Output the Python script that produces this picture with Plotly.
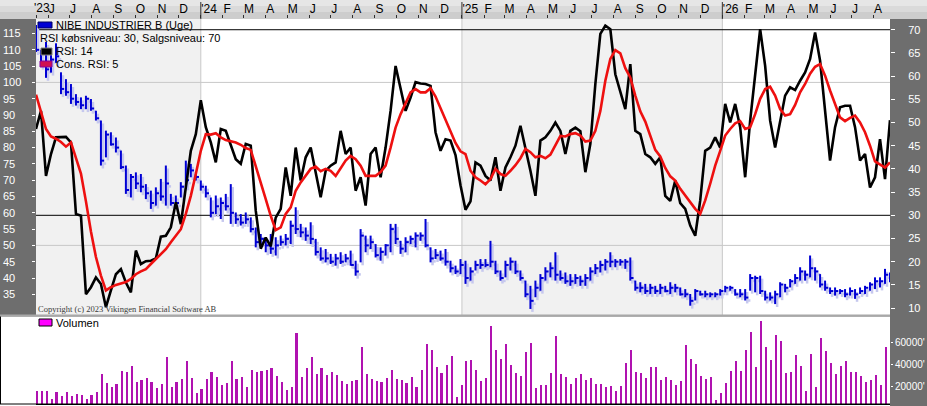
import pandas as pd
import plotly.graph_objects as go

# ---------------- data ----------------
week_start = "2023-05-15"
n_weeks = 172
dates = pd.date_range(week_start, periods=n_weeks, freq="7D")

high = [
    117.6, 110.0, 112.4, 108.5, 112.0, 103.1, 101.0, 99.5, 96.4, 95.4,
    95.9, 94.9, 91.3, 88.3, 85.2, 84.7, 83.1, 79.1, 74.5, 71.9,
    72.4, 71.9, 68.8, 66.8, 67.8, 70.4, 74.5, 65.8, 65.3, 69.4,
    76.0, 75.0, 71.9, 69.9, 68.3, 64.7, 65.3, 64.7, 65.8, 68.8,
    60.1, 59.6, 60.1, 58.6, 55.5, 53.5, 52.5, 53.5, 52.5, 53.0,
    53.5, 57.6, 61.7, 56.6, 55.5, 57.1, 52.0, 49.4, 48.9, 47.4,
    47.4, 47.9, 47.4, 48.4, 45.3, 55.0, 53.0, 53.0, 50.4, 49.4,
    50.4, 56.6, 56.6, 51.4, 52.5, 53.0, 54.0, 54.0, 58.1, 49.4,
    48.9, 48.4, 48.9, 45.3, 43.8, 45.8, 45.3, 43.3, 45.3, 45.8,
    45.8, 51.4, 45.3, 42.3, 45.3, 46.3, 45.3, 42.3, 39.2, 37.6,
    39.2, 41.2, 43.3, 44.8, 47.9, 42.3, 41.7, 41.2, 41.2, 40.7,
    41.2, 43.3, 44.3, 45.3, 45.8, 47.9, 45.8, 45.8, 45.8, 46.3,
    39.2, 38.7, 38.2, 38.2, 37.6, 38.2, 37.6, 38.7, 38.2, 37.1,
    36.6, 35.1, 36.6, 36.1, 36.1, 35.6, 35.6, 36.6, 37.6, 37.6,
    36.6, 36.6, 36.6, 41.2, 40.7, 40.7, 36.1, 35.6, 36.1, 38.7,
    38.2, 39.7, 41.2, 43.3, 42.3, 46.9, 43.3, 41.2, 39.2, 37.1,
    37.1, 36.6, 36.6, 37.1, 36.6, 37.1, 37.6, 38.7, 40.2, 40.2,
    42.8, 41.7,
]
low = [
    109.3, 104.8, 101.4, 103.0, 106.0, 96.4, 95.9, 93.4, 92.9, 91.8,
    91.8, 91.3, 88.3, 74.5, 77.0, 80.6, 78.5, 73.4, 65.8, 64.7,
    67.3, 66.3, 64.2, 61.2, 62.2, 63.7, 62.2, 62.2, 61.7, 64.7,
    67.8, 70.9, 69.9, 66.8, 64.7, 58.6, 59.6, 58.1, 60.7, 56.6,
    56.6, 56.1, 56.6, 54.0, 49.4, 50.4, 47.9, 47.4, 46.9, 49.9,
    50.0, 50.4, 53.5, 52.5, 51.4, 50.4, 46.9, 45.3, 44.8, 44.3,
    43.8, 44.3, 44.8, 43.8, 40.7, 44.8, 47.9, 48.9, 46.3, 45.3,
    46.9, 47.9, 50.4, 47.4, 47.9, 50.4, 49.4, 51.4, 49.4, 44.8,
    45.8, 45.3, 43.8, 41.7, 41.2, 41.2, 38.2, 39.2, 42.3, 42.8,
    43.3, 43.3, 41.2, 39.2, 40.2, 42.3, 41.2, 39.2, 34.1, 30.5,
    34.1, 36.1, 39.2, 40.2, 39.2, 39.2, 38.2, 37.6, 38.2, 37.6,
    37.6, 39.2, 41.2, 41.7, 42.3, 43.3, 43.3, 43.8, 42.8, 39.2,
    36.1, 35.6, 35.1, 35.1, 35.1, 35.1, 35.6, 35.1, 35.6, 34.6,
    34.1, 31.5, 33.1, 34.6, 34.1, 34.1, 34.1, 34.6, 35.6, 36.1,
    34.6, 34.1, 33.1, 36.1, 35.6, 35.1, 33.1, 33.1, 32.0, 34.1,
    35.6, 37.1, 38.2, 39.2, 39.2, 40.2, 39.2, 37.1, 36.1, 35.1,
    34.6, 35.1, 34.1, 34.6, 33.6, 35.1, 35.1, 36.1, 36.6, 37.1,
    38.2, 38.7,
]
close = [
    110, 106, 104, 107, 108, 98, 97, 95, 94, 93,
    95, 92, 89, 76, 84, 81, 80, 74, 67, 71,
    69, 68, 66, 63, 66, 65, 69, 63, 63, 68,
    70, 73, 71, 68, 66, 60, 62, 63, 62, 60,
    58, 57, 58, 55, 51, 52, 50, 49, 50, 51,
    52, 56, 55, 54, 53, 52, 48, 46, 46, 45,
    46, 45, 46, 44, 42, 53, 50, 51, 47, 48,
    50, 55, 52, 49, 51, 52, 53, 53, 50, 46,
    47, 46, 45, 43, 42, 44, 40, 42, 44, 44,
    44, 45, 42, 40, 44, 45, 42, 40, 35, 33,
    37, 40, 42, 43, 41, 40, 39, 39, 40, 39,
    40, 42, 43, 44, 45, 45, 45, 45, 45, 40,
    37, 37, 36, 37, 36, 37, 36, 37, 37, 35,
    35, 33, 36, 35, 35, 35, 35, 36, 37, 37,
    35, 35, 34, 40, 40, 36, 34, 34, 35, 38,
    37, 39, 40, 42, 41, 43, 42, 38, 37, 36,
    36, 36, 35, 36, 35, 36, 37, 38, 39, 39,
    41, 40,
]
rsi = [
    48.6, 52.5, 38.5, 43.2, 46.8, 46.9, 46.9, 45.7, 30.3, 29.9,
    13.0, 14.5, 16.6, 15.2, 10.2, 13.8, 17.3, 18.4, 15.5, 13.4,
    22.4, 19.5, 20.1, 20.2, 20.7, 25.4, 25.6, 27.4, 32.8, 28.1,
    36.0, 43.9, 47.5, 54.8, 49.0, 45.7, 41.4, 48.6, 48.2, 45.0,
    42.1, 41.1, 45.4, 45.0, 31.0, 22.8, 25.2, 23.3, 29.5, 31.4,
    40.3, 34.2, 44.6, 37.5, 42.5, 44.6, 38.9, 33.9, 39.6, 40.7,
    41.4, 48.2, 43.2, 44.6, 35.3, 38.2, 32.1, 43.2, 44.6, 38.2,
    44.6, 52.5, 62.2, 57.6, 52.5, 55.4, 58.7, 58.4, 58.3, 57.9,
    47.9, 43.9, 46.4, 46.1, 43.0, 36.5, 31.2, 33.0, 41.4, 40.7,
    38.5, 37.5, 42.5, 35.3, 40.3, 42.5, 45.0, 49.3, 44.6, 39.6,
    34.2, 46.1, 46.8, 48.2, 50.0, 48.2, 43.2, 48.2, 48.9, 48.1,
    39.3, 45.4, 58.3, 69.1, 70.9, 70.1, 60.4, 56.5, 52.9, 62.6,
    48.2, 47.5, 43.2, 42.5, 41.1, 42.5, 34.2, 33.1, 37.5, 32.6,
    31.4, 27.8, 25.6, 33.2, 43.9, 44.6, 46.8, 44.6, 54.0, 50.0,
    54.0, 49.0, 38.2, 50.4, 60.4, 70.1, 62.2, 50.4, 44.6, 50.4,
    55.8, 57.6, 57.0, 59.0, 60.8, 63.7, 69.4, 63.3, 51.8, 41.8,
    49.0, 53.3, 53.6, 53.6, 49.0, 41.8, 43.2, 36.0, 38.2, 46.4,
    37.8, 50.5,
]
rsi_avg = [
    56.0, 52.3, 48.6, 47.0, 46.5, 45.8, 44.8, 45.7, 42.5, 39.0,
    33.0, 26.5, 21.0, 17.0, 13.8, 14.5, 15.0, 15.3, 15.6, 16.3,
    17.3, 17.9, 18.4, 19.5, 20.6, 21.7, 22.7, 24.2, 25.6, 27.0,
    30.3, 34.2, 38.9, 43.9, 47.5, 47.4, 47.7, 46.8, 46.2, 45.9,
    45.7, 45.2, 44.5, 44.1, 40.7, 37.1, 33.5, 29.9, 26.8, 27.4,
    30.3, 31.7, 35.3, 37.1, 38.5, 40.0, 40.5, 39.5, 40.0, 39.6,
    38.5, 40.2, 41.8, 42.8, 42.1, 40.7, 38.5, 38.5, 38.5, 39.3,
    40.7, 44.6, 48.9, 51.8, 54.3, 56.5, 57.2, 56.5, 56.5, 57.4,
    55.6, 53.1, 50.6, 48.4, 45.6, 43.8, 43.2, 39.6, 38.2, 37.5,
    36.7, 37.8, 40.0, 38.9, 38.5, 39.6, 40.8, 42.3, 44.3, 43.6,
    42.5, 42.8, 42.3, 43.1, 45.2, 47.1, 47.0, 47.5, 47.7, 47.2,
    45.9, 46.1, 48.2, 52.5, 59.0, 63.7, 65.6, 64.9, 61.7, 59.7,
    55.8, 52.4, 50.2, 47.2, 44.1, 42.7, 40.2, 38.4, 37.5, 35.7,
    34.2, 32.8, 31.4, 30.3, 33.2, 36.8, 40.7, 43.9, 47.2, 48.6,
    49.8, 50.3, 48.6, 49.0, 51.8, 55.1, 57.2, 57.7, 55.8, 52.9,
    51.5, 51.8, 53.8, 56.5, 58.3, 60.5, 62.0, 62.6, 60.1, 56.9,
    54.0, 51.1, 50.3, 51.0, 51.5, 50.0, 47.9, 45.0, 41.6, 40.9,
    40.3, 41.4,
]
volume = [  # thousands
    15500, 15500, 15500, 8100, 14600, 10900, 14600, 10900, 12700, 11800,
    9000, 11800, 14600, 31200, 22900, 19200, 21900, 33900, 33000, 38500,
    23800, 25600, 27500, 23800, 18200, 21900, 46800, 19200, 23800, 26500,
    43100, 27500, 13600, 17300, 26500, 33000, 28400, 21000, 22900, 43100,
    26500, 28400, 19200, 34800, 33000, 33900, 34800, 36700, 29300, 23800,
    16400, 19200, 68900, 28400, 36700, 46800, 31200, 36700, 30200, 33000,
    30200, 24700, 21900, 24700, 25600, 56000, 31200, 26500, 24700, 23800,
    27500, 34800, 26500, 25600, 22900, 28400, 19200, 34800, 58800, 53300,
    37600, 32100, 39400, 47700, 10000, 21000, 43100, 44100, 34800, 24700,
    27500, 75400, 53300, 45000, 58800, 39400, 32100, 29300, 51400, 59700,
    18200, 21000, 21000, 32100, 66200, 31200, 28400, 21900, 27500, 31200,
    25600, 27500, 21900, 21900, 19200, 20100, 15500, 20100, 41300, 53300,
    33000, 32100, 27500, 37600, 37600, 25600, 28400, 25600, 21000, 24700,
    57900, 45000, 40400, 29300, 26500, 28400, 7800, 13600, 22900, 33900,
    43100, 33900, 53300, 69900, 37600, 80000, 56000, 44100, 67100, 61600,
    32100, 33000, 48700, 38500, 15500, 49600, 19200, 64300, 52300, 41300,
    31200, 38500, 43100, 33000, 33000, 29300, 23800, 25600, 30200, 21000,
    56000,
]

month_ticks = [week_start] + [d.strftime("%Y-%m-%d") for d in
                              pd.date_range("2023-06-01", "2026-08-01", freq="MS")]
month_labels = ["'23", "J", "J", "A", "S", "O", "N", "D",
                "'24", "F", "M", "A", "M", "J", "J", "A", "S", "O", "N", "D",
                "'25", "F", "M", "A", "M", "J", "J", "A", "S", "O", "N", "D",
                "'26", "F", "M", "A", "M", "J", "J", "A"]
year_starts = ["2024-01-01", "2025-01-01", "2026-01-01"]
price_ticks = list(range(35, 120, 5))
rsi_ticks = list(range(10, 75, 5))
vol_ticks = [20000, 40000, 60000]
vol_labels = ["20000'", "40000'", "60000'"]
rsi_levels = [30, 70]
price_grid = [50, 100]

# ---------------- layout helpers ----------------
W, H = 927, 406
TOP, BOT = 19, 404
PH = BOT - TOP


def px(x):
    return x / W


def py(y):
    return (BOT - y) / PH


FONT = "Liberation Sans, Arial, sans-serif"
main_bottom = py(315)
vol_top = py(316.5)
price_range = [28.65, 119.45]
rsi_range = [8.51, 72.31]
vol_range = [3500, 83690]

fmt = "%Y-%m-%d %H:%M"
tick = pd.Timedelta(days=4.5)
sdx = pd.Timedelta(days=2.8)
sdy = 0.9

bx, by, sx, sy = [], [], [], []
for d, h, l, c in zip(dates, high, low, close):
    bx += [d.strftime(fmt), d.strftime(fmt), None, d.strftime(fmt), (d + tick).strftime(fmt), None]
    by += [h, l, None, c, c, None]
    e = d + sdx
    sx += [e.strftime(fmt), e.strftime(fmt), None, e.strftime(fmt), (e + tick).strftime(fmt), None]
    sy += [h - sdy, l - sdy, None, c - sdy, c - sdy, None]

xs = [d.strftime("%Y-%m-%d") for d in dates]

fig = go.Figure()
fig.add_trace(go.Scatter(x=sx, y=sy, mode="lines", line=dict(color="#c6c8ee", width=2.5),
                         xaxis="x", yaxis="y", hoverinfo="skip"))
fig.add_trace(go.Scatter(x=bx, y=by, mode="lines", line=dict(color="#0000d4", width=2),
                         xaxis="x", yaxis="y", hoverinfo="skip"))
fig.add_trace(go.Scatter(x=xs, y=rsi, mode="lines", line=dict(color="black", width=2.6),
                         xaxis="x", yaxis="y2"))
fig.add_trace(go.Scatter(x=xs, y=rsi_avg, mode="lines", line=dict(color="#ee1010", width=2.6),
                         xaxis="x", yaxis="y2"))
fig.add_trace(go.Bar(x=xs[:len(volume)], y=volume, xaxis="x2", yaxis="y3",
                     marker=dict(color="#b012b0", line=dict(width=0)),
                     width=2.8 * 86400000, offset=0))
# carrier trace so the left (label) price axis gets drawn
fig.add_trace(go.Scatter(x=xs[:1], y=[None], mode="lines", xaxis="x", yaxis="y4",
                         hoverinfo="skip"))

shapes = []
# top strip
for (y0, y1, col) in [(0, 6, "#e6e6e6"), (6, 12, "#dadada"), (12, 19, "#cdcdcd")]:
    shapes.append(dict(type="rect", xref="paper", yref="paper", x0=0, x1=1, y0=py(y1), y1=py(y0),
                       fillcolor=col, line=dict(width=0), layer="below"))
# alternate year shading
for a, b in [(xs[0], "2024-01-01"), ("2025-01-01", "2026-01-01")]:
    shapes.append(dict(type="rect", xref="x", yref="y domain", x0=a, x1=b, y0=0, y1=1,
                       fillcolor="#f1f1f1", line=dict(width=0), layer="below"))
for v in price_grid:
    shapes.append(dict(type="line", xref="x domain", yref="y", x0=0, x1=1, y0=v, y1=v,
                       line=dict(color="#c8c8c8", width=1), layer="below"))
for ys in year_starts:
    shapes.append(dict(type="line", xref="x", yref="y domain", x0=ys, x1=ys, y0=0, y1=1,
                       line=dict(color="#c8c8c8", width=1), layer="below"))
    shapes.append(dict(type="line", xref="x", yref="paper", x0=ys, x1=ys, y0=1, y1=py(2),
                       line=dict(color="#303030", width=1)))
for v in rsi_levels:
    shapes.append(dict(type="line", xref="x domain", yref="y2", x0=0, x1=1, y0=v, y1=v,
                       line=dict(color="black", width=1), layer="below"))
# separator + lower-left white box
shapes.append(dict(type="rect", xref="paper", yref="paper", x0=0, x1=px(36), y0=py(406), y1=vol_top,
                   fillcolor="white", line=dict(width=0), layer="below"))
shapes.append(dict(type="rect", xref="paper", yref="paper", x0=0, x1=px(890), y0=py(406), y1=0,
                   fillcolor="white", line=dict(width=0), layer="below"))
shapes.append(dict(type="line", xref="paper", yref="paper", x0=0, x1=px(890), y0=py(315.5), y1=py(315.5),
                   line=dict(color="#a8a8a8", width=2)))
shapes.append(dict(type="line", xref="paper", yref="paper", x0=px(0.5), x1=px(0.5), y0=0, y1=vol_top,
                   line=dict(color="black", width=1)))
shapes.append(dict(type="line", xref="paper", yref="paper", x0=0, x1=px(890), y0=0, y1=0,
                   line=dict(color="black", width=1)))
# legend markers
for (x0, x1, y0, y1, fc, lc) in [(38, 52, 22, 28, "#0000d4", "#000060"),
                                 (41, 52, 48, 55, "black", "#808080"),
                                 (40, 52, 61, 67, "#d01050", "#8000a0"),
                                 (39, 52, 319, 326, "#ff00ff", "black")]:
    shapes.append(dict(type="rect", xref="paper", yref="paper", x0=px(x0), x1=px(x1),
                       y0=py(y1), y1=py(y0), fillcolor=fc, line=dict(color=lc, width=1)))

annotations = []
for (x, y, txt) in [(54, 25, "NIBE INDUSTRIER B (Uge)"),
                    (38, 38, "RSI købsniveau: 30, Salgsniveau: 70"),
                    (54, 51, "RSI: 14"),
                    (54, 64, "Cons. RSI: 5"),
                    (54, 323, "Volumen")]:
    annotations.append(dict(text=txt, xref="paper", yref="paper", x=px(x), y=py(y),
                            xanchor="left", yanchor="middle", showarrow=False,
                            font=dict(family=FONT, size=11, color="black")))
annotations.append(dict(text="Copyright (c) 2023 Vikingen Financial Software AB", xref="paper",
                        yref="paper", x=px(36), y=py(309), xanchor="left", yanchor="middle",
                        showarrow=False,
                        font=dict(family="Liberation Serif, Times New Roman, serif", size=8.5,
                                  color="#3a3a3a")))
# first year label sits in the strip at the very start
annotations.append(dict(text=month_labels[0], xref="paper", yref="paper", x=px(32), y=py(8),
                        xanchor="left", yanchor="middle", showarrow=False,
                        font=dict(family=FONT, size=12, color="black")))
tick_text = [""] + month_labels[1:]

fig.update_layout(
    width=W, height=H,
    margin=dict(l=0, r=0, t=TOP, b=H - BOT, autoexpand=False),
    paper_bgcolor="#6e6e6e",
    plot_bgcolor="white",
    showlegend=False,
    bargap=0,
    font=dict(family=FONT, size=11, color="white"),
    xaxis=dict(domain=[px(36), px(890)], type="date", range=[xs[0], xs[-1]], side="top",
               anchor="y", tickmode="array", tickvals=month_ticks, ticktext=tick_text,
               tickangle=0, automargin=False,
               ticks="outside", ticklen=3, tickcolor="#303030", ticklabelposition="outside right",
               tickfont=dict(family=FONT, size=12, color="black"), showgrid=False,
               zeroline=False, showline=False),
    xaxis2=dict(domain=[px(36), px(890)], type="date", matches="x", anchor="y3",
                showticklabels=False, ticks="", showgrid=False, zeroline=False, automargin=False,
                showline=True, linecolor="black", linewidth=1),
    yaxis=dict(domain=[main_bottom, 1], range=price_range, side="left", anchor="x",
               tickmode="array", tickvals=price_ticks, showticklabels=False, ticks="outside",
               ticklen=3, tickcolor="white", showgrid=False, zeroline=False, automargin=False),
    yaxis2=dict(overlaying="y", side="right", anchor="x", range=rsi_range, tickmode="array",
                tickvals=rsi_ticks, ticks="outside", ticklen=4, tickcolor="white",
                ticklabelstandoff=11, showgrid=False, zeroline=False, automargin=False,
                tickfont=dict(family=FONT, size=11, color="white")),
    yaxis3=dict(domain=[0, vol_top], anchor="x2", side="right", range=vol_range,
                tickmode="array", tickvals=vol_ticks, ticktext=vol_labels, ticks="outside",
                ticklen=2, tickcolor="white", showgrid=False, zeroline=False, automargin=False,
                ticklabelstandoff=0,
                tickfont=dict(family=FONT, size=10, color="white")),
    yaxis4=dict(overlaying="y", anchor="free", position=0, side="right", range=price_range,
                tickmode="array", tickvals=price_ticks, ticks="", showgrid=False,
                zeroline=False, ticklabelstandoff=2, automargin=False,
                tickfont=dict(family=FONT, size=11, color="white")),
    shapes=shapes,
    annotations=annotations,
)

fig.write_html("out.html", config={"displayModeBar": False},
               post_script="document.body.style.margin='0px';")
